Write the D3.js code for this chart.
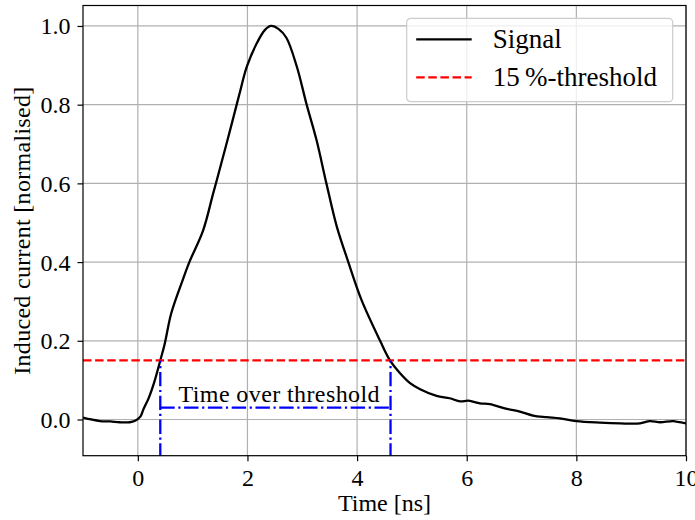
<!DOCTYPE html>
<html>
<head>
<meta charset="utf-8">
<script src="https://cdn.jsdelivr.net/npm/d3@7"></script>
<style>
  body { margin: 0; background: #fff; }
  text { font-family: "Liberation Serif", "Times New Roman", serif; fill: #000; }
</style>
</head>
<body>
<div id="chart"></div>
<script>
// signal (time in ns, normalised current)
var times = [-1.0, -0.85, -0.69, -0.5, -0.33, -0.15, -0.05, 0.05, 0.1, 0.2, 0.3, 0.41, 0.49, 0.61,
             0.82, 0.94, 1.19, 1.37, 1.55, 1.72, 1.85, 1.99, 2.17, 2.32, 2.43, 2.57, 2.71, 2.9,
             3.08, 3.26, 3.44, 3.63, 3.84, 4.08, 4.42, 4.6, 4.78, 4.96, 5.15, 5.45, 5.69, 5.88,
             6.03, 6.24, 6.42, 6.73, 6.97, 7.21, 7.46, 7.7, 8.0, 8.43, 8.8, 9.16, 9.34, 9.53, 9.77, 10.0];
var current = [0.005, 0.0, -0.004, -0.005, -0.007, -0.007, -0.003, 0.008, 0.025, 0.055, 0.095, 0.15, 0.192, 0.27,
               0.355, 0.4, 0.48, 0.572, 0.665, 0.755, 0.825, 0.897, 0.956, 0.99, 1.0, 0.992, 0.97, 0.897,
               0.8, 0.71, 0.6, 0.49, 0.4, 0.304, 0.2, 0.15, 0.118, 0.093, 0.077, 0.06, 0.054, 0.046,
               0.048, 0.041, 0.039, 0.027, 0.02, 0.01, 0.006, 0.003, -0.004, -0.008, -0.01, -0.01, -0.004, -0.007, -0.004, -0.01];

var threshold = 0.15;
var totStart = 0.41, totEnd = 4.61, totLevel = 0.03;
var totLabel = "Time over threshold";
var totLabelX = 2.58, totLabelY = 0.045;

var xTicks = [0, 2, 4, 6, 8, 10];
var yTicks = [0.0, 0.2, 0.4, 0.6, 0.8, 1.0];
var legendLabels = ["Signal", "15\u2009%-threshold"];

var data = times.map(function(t, i) { return { t: t, v: current[i] }; });

var margin = { top: 5.5, right: 9, bottom: 64.3, left: 83 };
var W = 695, H = 520;
var width = W - margin.left - margin.right;
var height = H - margin.top - margin.bottom;

var svg = d3.select("#chart")
            .append("svg")
            .attr("width", W)
            .attr("height", H)
            .append("g")
            .attr("transform", "translate(" + margin.left + "," + margin.top + ")");

var xScale = d3.scaleLinear().domain([-1, 10]).range([0, width]);
var yScale = d3.scaleLinear().domain([-0.092, 1.052]).range([height, 0]);

svg.append("defs").append("clipPath").attr("id", "clip")
   .append("rect").attr("width", width).attr("height", height);

// grid
svg.append("g")
   .selectAll("line")
   .data(xTicks)
   .enter()
   .append("line")
   .attr("x1", function(d) { return xScale(d); })
   .attr("x2", function(d) { return xScale(d); })
   .attr("y1", 0)
   .attr("y2", height)
   .attr("stroke", "#b0b0b0")
   .attr("stroke-width", 1.2);

svg.append("g")
   .selectAll("line")
   .data(yTicks)
   .enter()
   .append("line")
   .attr("x1", 0)
   .attr("x2", width)
   .attr("y1", function(d) { return yScale(d); })
   .attr("y2", function(d) { return yScale(d); })
   .attr("stroke", "#b0b0b0")
   .attr("stroke-width", 1.2);

var plot = svg.append("g").attr("clip-path", "url(#clip)");

// signal
var line = d3.line()
             .x(function(d) { return xScale(d.t); })
             .y(function(d) { return yScale(d.v); })
             .curve(d3.curveCatmullRom.alpha(0.5));

plot.append("path")
    .datum(data)
    .attr("d", line)
    .attr("fill", "none")
    .attr("stroke", "#000")
    .attr("stroke-width", 2.3)
    .attr("stroke-linejoin", "round");

// threshold
plot.append("line")
    .attr("x1", 0)
    .attr("x2", width)
    .attr("y1", yScale(threshold))
    .attr("y2", yScale(threshold))
    .attr("stroke", "red")
    .attr("stroke-width", 2.3)
    .attr("stroke-dasharray", "8.5,3.6");

// time over threshold markers
var dashDot = "14.4,3.6,2.2,3.6";
[totStart, totEnd].forEach(function(t) {
    plot.append("line")
        .attr("x1", xScale(t))
        .attr("x2", xScale(t))
        .attr("y1", height + 2)
        .attr("y2", yScale(threshold))
        .attr("stroke", "blue")
        .attr("stroke-width", 2.3)
        .attr("stroke-dasharray", dashDot);
});

plot.append("line")
    .attr("x1", xScale(totStart))
    .attr("x2", xScale(totEnd))
    .attr("y1", yScale(totLevel))
    .attr("y2", yScale(totLevel))
    .attr("stroke", "blue")
    .attr("stroke-width", 2.3)
    .attr("stroke-dasharray", dashDot);

svg.append("text")
   .attr("x", xScale(totLabelX))
   .attr("y", yScale(totLabelY))
   .attr("text-anchor", "middle")
   .style("font-size", "24px")
   .style("letter-spacing", "0.4px")
   .text(totLabel);

// frame
svg.append("rect")
   .attr("width", width)
   .attr("height", height)
   .attr("fill", "none")
   .attr("stroke", "#000")
   .attr("stroke-width", 1.2);

// axes
var xAxis = svg.append("g")
   .attr("transform", "translate(0," + height + ")")
   .call(d3.axisBottom(xScale).tickValues(xTicks).tickSize(5.5).tickPadding(6).tickFormat(d3.format("d")));

var yAxis = svg.append("g")
   .call(d3.axisLeft(yScale).tickValues(yTicks).tickSize(5.5).tickPadding(7).tickFormat(d3.format(".1f")));

[xAxis, yAxis].forEach(function(a) {
    a.select(".domain").remove();
    a.selectAll(".tick line").attr("stroke", "#000").attr("stroke-width", 1.2);
    a.selectAll(".tick text")
     .attr("fill", "#000")
     .style("font-family", "'Liberation Serif', serif")
     .style("font-size", "24px");
});
yAxis.selectAll(".tick text").attr("dy", "0.33em");
xAxis.selectAll(".tick text").attr("dy", "0.78em");

// axis labels
svg.append("text")
   .attr("x", width / 2)
   .attr("y", H - margin.top - 9)
   .attr("text-anchor", "middle")
   .style("font-size", "24px")
   .text("Time [ns]");

svg.append("text")
   .attr("x", -height / 2)
   .attr("y", -margin.left + 30)
   .attr("transform", "rotate(-90)")
   .attr("text-anchor", "middle")
   .style("font-size", "24px")
   .style("letter-spacing", "0.3px")
   .text("Induced current [normalised]");

// legend
var legend = svg.append("g")
   .attr("transform", "translate(" + (406.7 - margin.left) + "," + (18.3 - margin.top) + ")");

legend.append("rect")
      .attr("width", 266)
      .attr("height", 83.4)
      .attr("rx", 4)
      .attr("fill", "#fff")
      .attr("fill-opacity", 0.8)
      .attr("stroke", "#cccccc")
      .attr("stroke-width", 1.2);

var legendStyles = [
    { color: "#000", dash: null },
    { color: "red", dash: "8.5,3.6" }
];

legendLabels.forEach(function(label, i) {
    var y = 21 + i * 38;
    legend.append("line")
          .attr("x1", 9.5)
          .attr("x2", 65)
          .attr("y1", y)
          .attr("y2", y)
          .attr("stroke", legendStyles[i].color)
          .attr("stroke-width", 2.3)
          .attr("stroke-dasharray", legendStyles[i].dash);
    legend.append("text")
          .attr("x", 86)
          .attr("y", y + 9)
          .style("font-size", "27px")
          .text(label);
});
</script>
</body>
</html>
